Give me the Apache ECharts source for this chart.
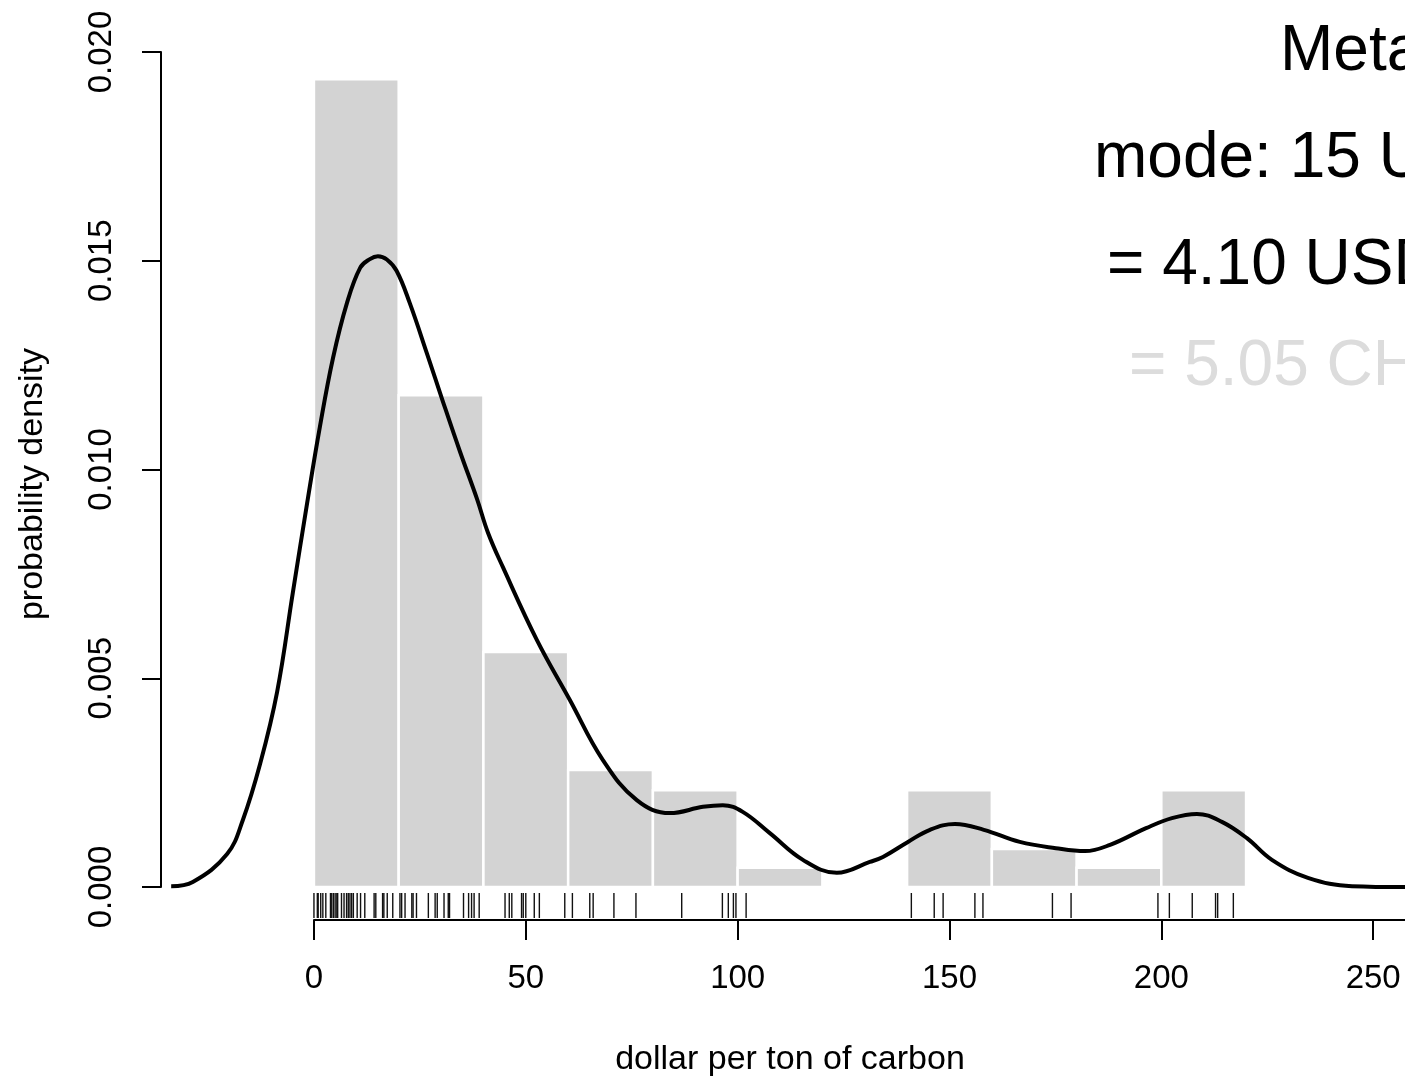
<!DOCTYPE html>
<html>
<head>
<meta charset="utf-8">
<script src="https://cdn.jsdelivr.net/npm/echarts@6/dist/echarts.min.js"></script>
<style>
  html, body { margin: 0; padding: 0; background: #fff; }
  #chart { width: 1405px; height: 1079px; }
</style>
</head>
<body>
<div id="chart"></div>
<script>
// histogram: bins of 20 USD, density per bin
const binStart = [0, 20, 40, 60, 80, 100, 120, 140, 160, 180, 200];
const binWidth = 20;
const binDensity = [0.01935, 0.01178, 0.00563, 0.00280, 0.00232, 0.00046, 0, 0.00232, 0.00091, 0.00046, 0.00232];

// kernel density curve
const densX = [-33.7, -28.6, -20.5, -16.8, -12.7, -8.7, -5.0, -1.6, 1.4, 4.5, 7.8, 10.9, 13.2, 15.1, 17.2,
  19.5, 22.6, 26.7, 30.4, 34.5, 38.5, 41.1, 44.6, 52.6, 60.4, 68.2, 76.2, 84.0, 91.8, 96.5, 101.2, 107.6,
  115.4, 123.4, 131.2, 134.3, 140.2, 145.4, 151.3, 158.1, 166.6, 175.1, 182.0, 187.9, 196.4, 202.5,
  208.4, 214.3, 220.2, 226.1, 234.6, 245.0, 257.5, 275.0];
const densY = [0.00002, 0.00012, 0.00079, 0.0016, 0.00295, 0.00467, 0.00704, 0.0092, 0.01102, 0.01267,
  0.01399, 0.01483, 0.01504, 0.01511, 0.01503, 0.01476, 0.01399, 0.01277, 0.01164, 0.01042, 0.00929,
  0.00848, 0.00766, 0.00592, 0.00448, 0.00304, 0.00208, 0.00177, 0.00192, 0.00196, 0.0018, 0.00129,
  0.00065, 0.00034, 0.0006, 0.00072, 0.00108, 0.00137, 0.00151, 0.00137, 0.00108, 0.00093, 0.00086,
  0.00101, 0.00141, 0.00165, 0.00175, 0.00156, 0.00117, 0.00065, 0.00022, 0.00002, 0, 0];

// individual estimates (rug)
const rugValues = [0.0, 0.8, 1.0, 1.6, 2.1, 2.8, 3.9, 4.2, 4.6, 5.0, 5.4, 5.6, 6.5, 7.1, 7.7, 8.1, 8.5,
  8.9, 9.3, 10.2, 11.0, 12.0, 14.2, 14.6, 16.2, 16.5, 17.3, 18.6, 20.3, 20.7, 21.5, 23.1, 23.4, 24.2,
  27.0, 28.6, 29.1, 30.7, 31.7, 32.0, 35.3, 36.5, 37.2, 37.8, 39.0, 45.1, 46.1, 46.7, 49.0, 49.4, 50.0,
  52.0, 53.2, 59.2, 61.0, 65.1, 65.9, 70.8, 76.0, 86.8, 96.4, 97.8, 99.0, 99.6, 102.0, 141.0, 146.4,
  148.5, 156.0, 157.9, 174.3, 178.7, 199.2, 201.9, 207.3, 212.8, 213.3, 217.0];

const xTicks = { min: 0, max: 300, interval: 50 };
const xPlotMin = -36.1; // left edge of the plot region
const yTicks = { min: 0, max: 0.02, interval: 0.005 };

const infoLines = ["Meta", "mode: 15 USD", "= 4.10 USD", "= 5.05 CHF"];

const font = "'Liberation Sans', Arial, sans-serif";

const chart = echarts.init(document.getElementById("chart"));

const histData = binStart.map((s, i) => [s, s + binWidth, binDensity[i]]);
const curveData = densX.map((x, i) => [x, densY[i]]);

const blackLine = { color: "#000", width: 2 };

chart.setOption({
  animation: false,
  backgroundColor: "#fff",
  grid: [
    // plot region (data + y axis)
    { left: 161, top: 52, bottom: 192, right: -180, outerBoundsMode: "none" },
    // x axis drawn from 0 like R's axis()
    { left: 314, top: 52, bottom: 192, right: -180, outerBoundsMode: "none" }
  ],
  xAxis: [
    {
      gridIndex: 0,
      type: "value",
      min: xPlotMin,
      max: xTicks.max,
      show: false
    },
    {
      gridIndex: 1,
      type: "value",
      min: xTicks.min,
      max: xTicks.max,
      interval: xTicks.interval,
      offset: 33,
      axisLine: { onZero: false, lineStyle: blackLine },
      axisTick: { length: 20, lineStyle: blackLine },
      axisLabel: { margin: 42, color: "#000", fontSize: 33, fontFamily: font },
      splitLine: { show: false }
    }
  ],
  yAxis: [
    {
      gridIndex: 0,
      type: "value",
      min: yTicks.min,
      max: yTicks.max,
      interval: yTicks.interval,
      axisLine: { show: true, onZero: false, lineStyle: blackLine },
      axisTick: { show: true, length: 19, lineStyle: blackLine },
      axisLabel: {
        rotate: 90,
        margin: 43,
        color: "#000",
        fontSize: 33,
        fontFamily: font,
        formatter: v => v.toFixed(3)
      },
      splitLine: { show: false }
    },
    {
      gridIndex: 1,
      type: "value",
      min: yTicks.min,
      max: yTicks.max,
      show: false
    }
  ],
  graphic: [
    {
      type: "text", x: 790, y: 1060,
      style: { text: "dollar per ton of carbon", fill: "#000", font: "34px " + font, align: "center", verticalAlign: "middle" }
    },
    {
      type: "text", x: 33, y: 484, rotation: Math.PI / 2,
      style: { text: "probability density", fill: "#000", font: "34px " + font, align: "center", verticalAlign: "middle" }
    },
    { type: "text", x: 1280, y: 52, style: { text: infoLines[0], fill: "#000", font: "64px " + font, verticalAlign: "middle" } },
    { type: "text", x: 1094, y: 159, style: { text: infoLines[1], fill: "#000", font: "64px " + font, verticalAlign: "middle" } },
    { type: "text", x: 1107, y: 266, style: { text: infoLines[2], fill: "#000", font: "64px " + font, verticalAlign: "middle" } },
    { type: "text", x: 1129, y: 367, style: { text: infoLines[3], fill: "#dcdcdc", font: "64px " + font, verticalAlign: "middle" } }
  ],
  series: [
    {
      type: "custom",
      name: "histogram",
      xAxisIndex: 0,
      yAxisIndex: 0,
      data: histData,
      encode: { x: [0, 1], y: 2 },
      renderItem: (params, api) => {
        const top = api.coord([api.value(0), api.value(2)]);
        const base = api.coord([api.value(1), 0]);
        return {
          type: "rect",
          shape: { x: top[0], y: top[1], width: base[0] - top[0], height: base[1] - top[1] },
          style: { fill: "#d3d3d3", stroke: "#fff", lineWidth: 2.5 }
        };
      },
      z: 1
    },
    {
      type: "custom",
      name: "rug",
      xAxisIndex: 0,
      yAxisIndex: 0,
      clip: false,
      data: rugValues.map(v => [v]),
      encode: { x: 0 },
      renderItem: (params, api) => {
        const p = api.coord([api.value(0), 0]);
        return {
          type: "line",
          shape: { x1: p[0], y1: p[1] + 6, x2: p[0], y2: p[1] + 31 },
          style: { stroke: "#111", lineWidth: 1.4 }
        };
      },
      z: 2
    },
    {
      type: "line",
      name: "density",
      xAxisIndex: 0,
      yAxisIndex: 0,
      data: curveData,
      smooth: 0.4,
      showSymbol: false,
      clip: false,
      lineStyle: { color: "#000", width: 4 },
      z: 3
    }
  ]
});
</script>
</body>
</html>
